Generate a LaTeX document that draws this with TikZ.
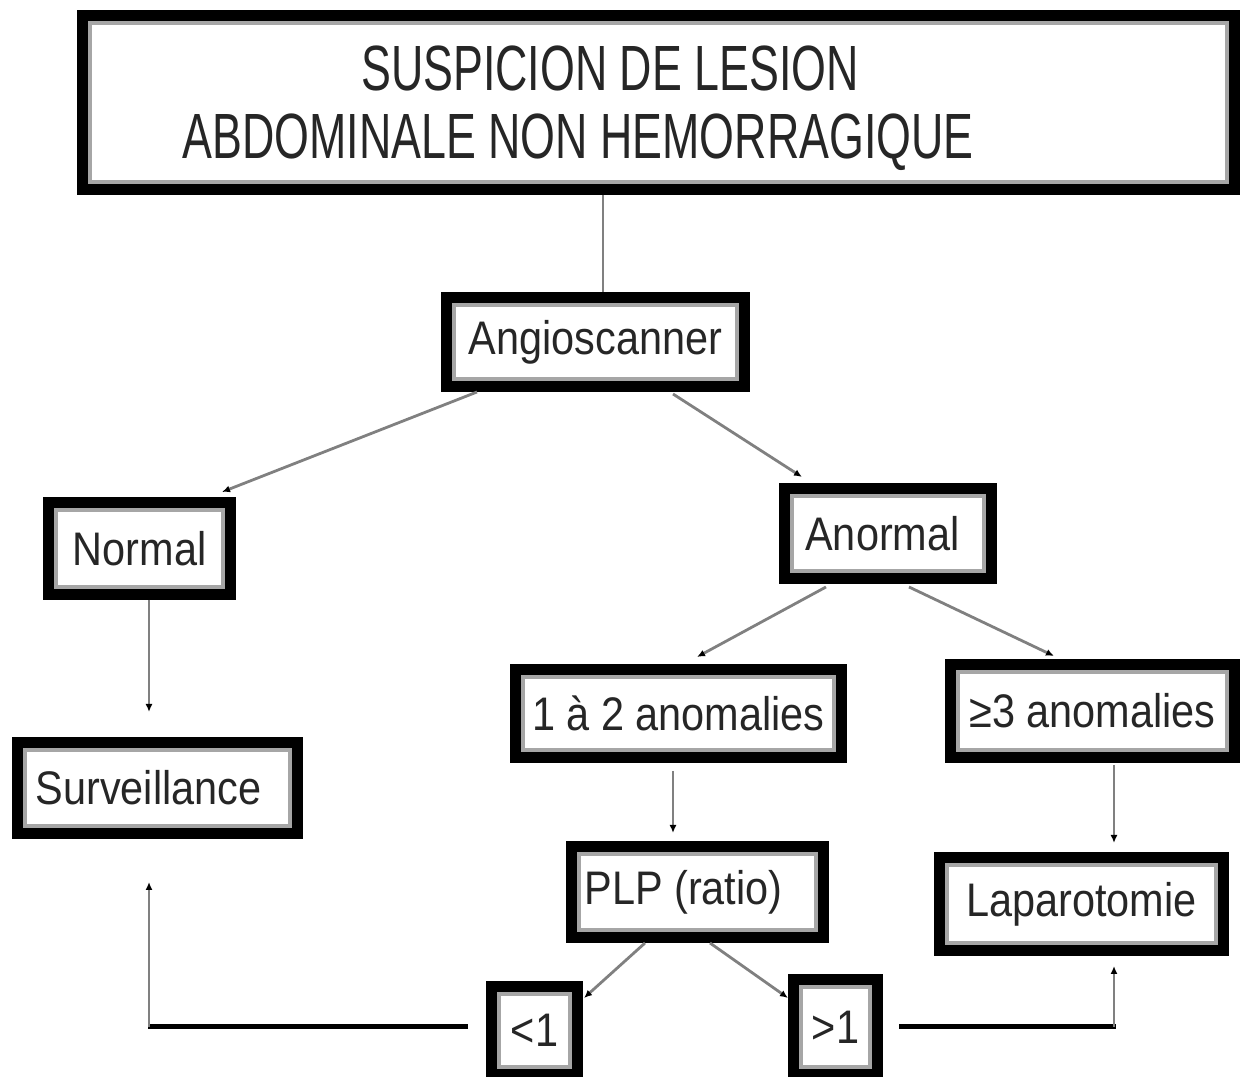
\documentclass[tikz,border=0pt]{standalone}
\usepackage{fontspec}
\newfontfamily\bodyfont[FakeStretch=0.88]{Liberation Sans}
\newfontfamily\headfont[FakeStretch=0.7]{Liberation Sans}
\usetikzlibrary{arrows.meta,calc}
\tikzset{
  box/.style={draw=black, line width=1.1mm, fill=white, inner sep=0pt,
    font=\bodyfont\fontsize{13.4pt}{16pt}\selectfont, text=black!85},
  headtext/.style={font=\headfont\fontsize{18.2pt}{22pt}\selectfont, text=black!85, inner sep=0pt},
  conn/.style={draw=gray, line width=0.28mm},
  tip/.style={-{Latex[length=0.8mm,width=0.7mm,color=black]}},
  bar/.style={draw=black, line width=0.5mm},
  innerline/.style={draw=gray!70, line width=0.35mm}
}
\begin{document}
\begin{tikzpicture}[x=0.1mm,y=-0.1mm]
\useasboundingbox (0,0) rectangle (1242,1077);
% boxes
\node[box, minimum width=115.2mm, minimum height=17.4mm] (title) at (658.5,102.5) {};
\node[box, minimum width=29.8mm, minimum height=8.9mm] (angio) at (595.5,342) {Angioscanner};
\node[box, minimum width=18.2mm, minimum height=9.2mm] (normal) at (139.5,548.5) {Normal};
\node[box, minimum width=20.7mm, minimum height=9.0mm] (anormal) at (888,533.5) {Anormal\kern1.1mm};
\node[box, minimum width=28.0mm, minimum height=9.1mm] (surv) at (157.5,788) {Surveillance\kern1.8mm};
\node[box, minimum width=32.6mm, minimum height=8.8mm] (onetwo) at (678.5,713.5) {1 à 2 anomalies};
\node[box, minimum width=28.4mm, minimum height=9.3mm] (three) at (1092.5,711) {≥3 anomalies};
\node[box, minimum width=25.2mm, minimum height=9.1mm] (plp) at (697.5,892) {PLP (ratio)\kern2.8mm};
\node[box, minimum width=28.4mm, minimum height=9.3mm] (lapa) at (1081.5,904) {Laparotomie};
\node[box, minimum width=8.6mm, minimum height=8.8mm] (lt1) at (534.5,1030.5) {<1};
\node[box, minimum width=8.4mm, minimum height=9.5mm] (gt1) at (835.5,1027) {>1};
% inner grey rules of the frames
\foreach \n in {title,angio,normal,anormal,surv,onetwo,three,plp,lapa,lt1,gt1}
  \draw[innerline] ($(\n.north west)+(13,13)$) rectangle ($(\n.south east)+(-13,-13)$);
% title text
\node[headtext] (t1) at (610,68) {SUSPICION DE LESION};
\node[headtext] (t2) at (578,142) {ABDOMINALE NON HEMORRAGIQUE};
% connectors
\draw[conn] (title.south -| 603,0) -- (angio.north -| 603,0);
\draw[conn,tip] ($(angio.south west)+(36,0)$) -- ($(normal.north east)+(-14,-5)$);
\draw[conn,tip] ($(angio.south west)+(232,2)$) -- ($(anormal.north west)+(23,-6)$);
\draw[conn,tip] ($(anormal.south west)+(47,3)$) -- ($(onetwo.north west)+(187,-7)$);
\draw[conn,tip] ($(anormal.south west)+(130,3)$) -- ($(three.north west)+(109,-3)$);
\draw[conn,tip] (normal.south -| 149,0) -- ($(surv.north -| 149,0)+(0,-25)$);
\draw[conn,tip] ($(onetwo.south -| 673,0)+(0,8)$) -- ($(plp.north -| 673,0)+(0,-8)$);
\draw[conn,tip] ($(three.south -| 1114,0)+(0,2)$) -- ($(lapa.north -| 1114,0)+(0,-9)$);
\draw[conn,tip] ($(plp.south west)+(79,0)$) -- ($(lt1.north east)+(1,17)$);
\draw[conn,tip] ($(plp.south west)+(144,0)$) -- ($(gt1.north west)+(0,24)$);
% return lines
\coordinate (lcorner) at (149,1027);
\coordinate (rcorner) at (1114,1027);
\draw[bar] ($(lt1.west)+(-18,-3.5)$) -- ($(lcorner)+(-1.5,0)$);
\draw[conn,tip] (lcorner) -- ($(surv.south -| 149,0)+(0,43)$);
\draw[bar] ($(gt1.east)+(16,0)$) -- ($(rcorner)+(1.5,0)$);
\draw[conn,tip] (rcorner) -- ($(lapa.south -| 1114,0)+(0,10)$);
\end{tikzpicture}
\end{document}
